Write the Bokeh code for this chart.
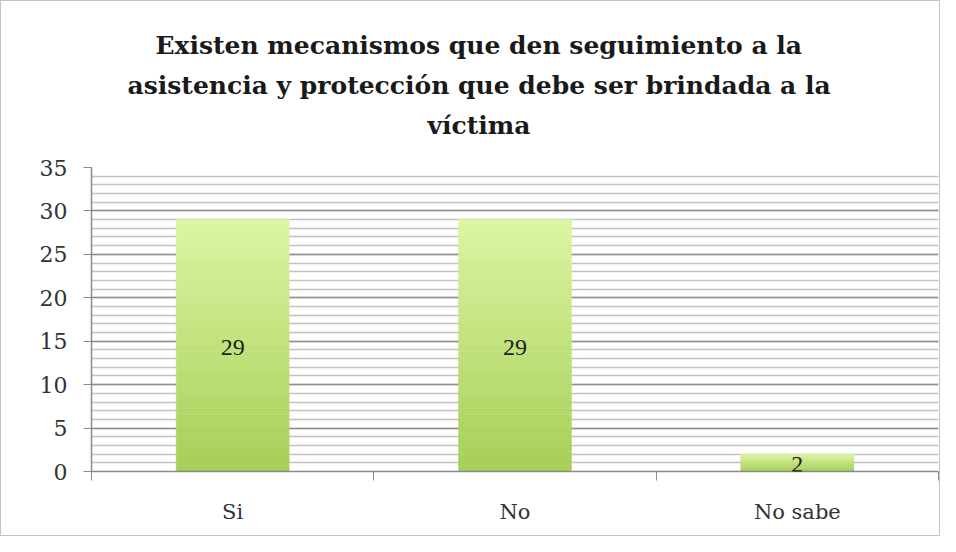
from bokeh.plotting import figure
from bokeh.models import (FixedTicker, SingleIntervalTicker, Range1d, Title,
                          ColumnDataSource, LabelSet)
from bokeh.embed import file_html
from bokeh.resources import INLINE

# ---- data ----
title_lines = [
    "Existen mecanismos que den seguimiento a la",
    "asistencia y protección que debe ser brindada a la",
    "víctima",
]
categories = ["Si", "No", "No sabe"]
counts = [29, 29, 2]
y_max = 35
y_step = 5

# ---- styles ----
top_rgb = (219, 245, 162)
bot_rgb = (166, 207, 87)
n_slices = 40

W, H = 940, 536
FL, FR, FT, FB = 90, 3, 166, 66   # frame borders
p = figure(width=W, height=H, title=None,
           x_range=Range1d(0, len(categories)), y_range=Range1d(0, y_max),
           output_backend="svg", toolbar_location=None,
           min_border_left=FL, min_border_right=FR,
           min_border_top=FT, min_border_bottom=FB)
p.styles = {"border": "1px solid #c4c4c4"}
p.outline_line_color = None
p.background_fill_color = "white"
p.border_fill_color = "white"

# spacer between the title block and the plot frame
p.add_layout(Title(text=" ", text_font_size="1px", standoff=20), "above")

# title lines (last added is outermost); left-aligned with offsets so the
# block is centred on the whole chart rather than on the plot frame
title_offsets = [64, 36, 336]
title_standoffs = [9, 9, 9]
for i in (2, 1, 0):
    p.add_layout(Title(text=title_lines[i], align="left",
                       offset=title_offsets[i], standoff=title_standoffs[i],
                       text_font="DejaVu Serif", text_font_size="25px",
                       text_font_style="bold", text_color="#1a1a1a"), "above")

# gradient bars built from the values
xs, bottoms, tops, colors = [], [], [], []
for i, v in enumerate(counts):
    for k in range(n_slices):
        f = k / (n_slices - 1)
        r = int(round(bot_rgb[0] + (top_rgb[0] - bot_rgb[0]) * f))
        g = int(round(bot_rgb[1] + (top_rgb[1] - bot_rgb[1]) * f))
        b = int(round(bot_rgb[2] + (top_rgb[2] - bot_rgb[2]) * f))
        xs.append(i + 0.5)
        bottoms.append(v * k / n_slices)
        tops.append(v * (k + 1) / n_slices)
        colors.append("#%02x%02x%02x" % (r, g, b))
src = ColumnDataSource(dict(x=xs, bottom=bottoms, top=tops, color=colors))
p.vbar(x="x", bottom="bottom", top="top", width=0.4, color="color",
       line_color="color", line_width=0.5, source=src)

# data labels
lab_src = ColumnDataSource(dict(x=[i + 0.5 for i in range(len(categories))],
                                y=[v / 2 for v in counts],
                                t=[str(v) for v in counts]))
p.add_layout(LabelSet(x="x", y="y", text="t", source=lab_src,
                      text_align="center", text_baseline="middle", y_offset=-2,
                      text_font="Lato", text_font_size="24px",
                      text_color="#222222"))

# x axis
xt = FixedTicker(ticks=[i + 0.5 for i in range(len(categories))],
                 minor_ticks=list(range(len(categories) + 1)))
p.xaxis.ticker = xt
p.xaxis.major_label_overrides = {i + 0.5: c for i, c in enumerate(categories)}
p.xaxis.major_tick_line_color = None
p.xaxis.major_tick_out = 0
p.xaxis.major_tick_in = 0
p.xaxis.minor_tick_out = 9
p.xaxis.minor_tick_in = 0
p.xaxis.minor_tick_line_color = "#8a8a8a"
p.xaxis.axis_line_color = "#8a8a8a"
p.xaxis.axis_line_width = 1.5
p.xaxis.major_label_text_font = "DejaVu Serif"
p.xaxis.major_label_text_font_size = "21px"
p.xaxis.major_label_text_color = "#333333"
p.xaxis.major_label_standoff = 19
p.xgrid.grid_line_color = None

# y axis
yt = SingleIntervalTicker(interval=y_step, num_minor_ticks=5)
p.yaxis.ticker = yt
p.yaxis.axis_line_color = "#8a8a8a"
p.yaxis.axis_line_width = 1.5
p.yaxis.major_tick_line_color = "#8a8a8a"
p.yaxis.major_tick_out = 8
p.yaxis.major_tick_in = 0
p.yaxis.minor_tick_line_color = None
p.yaxis.major_label_text_font = "DejaVu Serif"
p.yaxis.major_label_text_font_size = "22px"
p.yaxis.major_label_text_color = "#333333"
p.yaxis.major_label_standoff = 16
p.ygrid.grid_line_color = "#8f8f8f"
p.ygrid.grid_line_width = 1.5
p.ygrid.minor_grid_line_color = "#c2c2c2"
p.ygrid.minor_grid_line_width = 1.3
p.ygrid.level = "underlay"

open("out.html", "w").write(file_html(p, INLINE))
